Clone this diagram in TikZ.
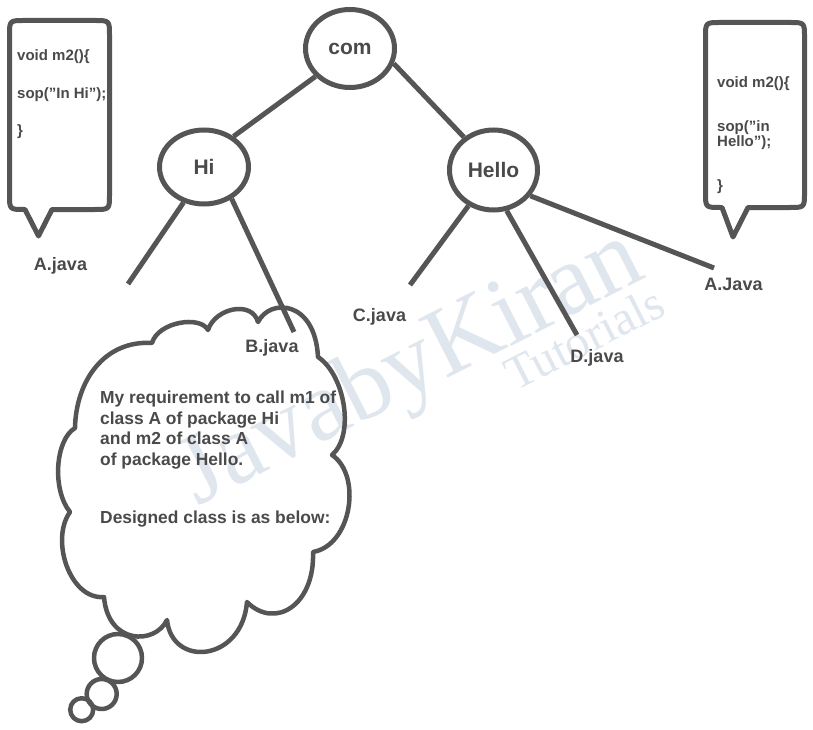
\documentclass[tikz,border=0pt]{standalone}
\usepackage{fontspec}
\setmainfont{Liberation Sans}
\newfontfamily\wmfont{Liberation Serif}
\usetikzlibrary{shapes.geometric}
\definecolor{ink}{HTML}{555555}
\definecolor{txt}{HTML}{4A4A4A}
\definecolor{wmcol}{HTML}{DFE6EE}
\begin{document}
\begin{tikzpicture}[x=1pt,y=-1pt,
  treeline/.style={draw=ink,line width=5pt},
  pkg/.style={ellipse,draw=ink,line width=5pt,inner sep=0pt,text=txt,
    font=\bfseries\fontsize{21}{21}\selectfont},
  lbl/.style={font=\bfseries\fontsize{18}{18}\selectfont,text=txt,inner sep=0pt,anchor=base},
  codetext/.style={font=\bfseries\fontsize{15}{15}\selectfont,text=txt,inner sep=0pt,anchor=base west},
  notetext/.style={font=\bfseries\fontsize{17.4}{17.4}\selectfont,text=txt,inner sep=0pt,anchor=base west},
  outline/.style={draw=ink,line width=5pt,line join=round},
  cloudline/.style={draw=ink,line width=4.5pt,line join=round},
  wmtext/.style={text=wmcol,inner sep=0pt,rotate=27}
]
\fill[white] (0,0) rectangle (813,730);
\useasboundingbox (0,0) rectangle (813,730);

% watermark
\node[wmtext,font=\wmfont\fontsize{100}{100}\selectfont] (wm1) at (412,370) {JavabyKiran};
\node[wmtext,font=\wmfont\fontsize{48}{48}\selectfont] (wm2) at (584,338) {Tutorials};

% package tree
\node[pkg,minimum width=89pt,minimum height=78pt] (com) at (350,48.5) {com};
\node[pkg,minimum width=89pt,minimum height=74pt] (hi) at (204,167) {Hi};
\node[pkg,minimum width=88pt,minimum height=80pt] (hello) at (493.5,170) {Hello};

\coordinate (e1) at (128,284);
\coordinate (e2) at (294,332);
\coordinate (e3) at (410,285);
\coordinate (e4) at (577,335);
\coordinate (e5) at (714,268);

\draw[treeline] (com.-141) -- (hi.46);
\draw[treeline] (com.-19) -- (hello.132);
\draw[treeline] (hi.-120) -- (e1);
\draw[treeline] (hi.-49) -- (e2);
\draw[treeline] (hello.-125) -- (e3);
\draw[treeline] (hello.-72) -- (e4);
\draw[treeline] (hello.-35) -- (e5);

% labels
\node[lbl] (la) at (60.5,270) {A.java};
\node[lbl] (lb) at (272,352.5) {B.java};
\node[lbl] (lc) at (379.5,321) {C.java};
\node[lbl] (ld) at (597,362) {D.java};
\node[lbl] (lA) at (733.5,290.5) {A.Java};

% left callout
\draw[outline] (25,209.5) -- (38.5,236) -- (52,209.5) -- (94.5,209.5)
  .. controls (109.5,209.5) .. (109.5,194.5) -- (109.5,35.5)
  .. controls (109.5,20.5) .. (94.5,20.5) -- (24.5,20.5)
  .. controls (9.5,20.5) .. (9.5,35.5) -- (9.5,194.5)
  .. controls (9.5,209.5) .. (24.5,209.5) -- cycle;
\node[codetext] (l1) at (17,61) {void m2()\{};
\node[codetext] (l2) at (17,99) {sop({\char34}In Hi{\char34});};
\node[codetext] (l3) at (17,136) {\}};

% right callout
\draw[outline] (722,207.5) -- (733,237) -- (748,207.5) -- (789.5,207.5)
  .. controls (804.5,207.5) .. (804.5,192.5) -- (804.5,37.5)
  .. controls (804.5,22.5) .. (789.5,22.5) -- (720.5,22.5)
  .. controls (705.5,22.5) .. (705.5,37.5) -- (705.5,192.5)
  .. controls (705.5,207.5) .. (720.5,207.5) -- cycle;
\node[codetext] (r1) at (717,88) {void m2()\{};
\node[codetext] (r2) at (717,132) {sop(”in};
\node[codetext] (r3) at (717,146.5) {Hello”);};
\node[codetext] (r4) at (717,190) {\}};

% thought cloud
\draw[cloudline] (75,428) .. controls (76,380) and (105,340) .. (152,343)
  .. controls (158,322) and (200,315) .. (208,330)
  .. controls (215,308) and (252,300) .. (258,322)
  .. controls (270,298) and (315,300) .. (318,357)
  .. controls (345,375) and (355,435) .. (332,455)
  .. controls (362,475) and (352,545) .. (313,552)
  .. controls (315,605) and (275,630) .. (247,602)
  .. controls (242,662) and (172,668) .. (167,620)
  .. controls (155,645) and (108,645) .. (104,597)
  .. controls (70,600) and (50,540) .. (70,512)
  .. controls (52,490) and (55,440) .. (75,428) -- cycle;
\draw[cloudline] (118,658) circle[radius=24];
\draw[cloudline] (101.7,694) circle[radius=15];
\draw[cloudline] (81.7,709.7) circle[radius=11.5];

\node[notetext] (n1) at (100,403.5) {My requirement to call m1 of};
\node[notetext] (n2) at (100,424) {class A of package Hi};
\node[notetext] (n3) at (100,444.5) {and m2 of class A};
\node[notetext] (n4) at (100,465) {of package Hello.};
\node[notetext] (n5) at (100,523) {Designed class is as below:};
\end{tikzpicture}
\end{document}
